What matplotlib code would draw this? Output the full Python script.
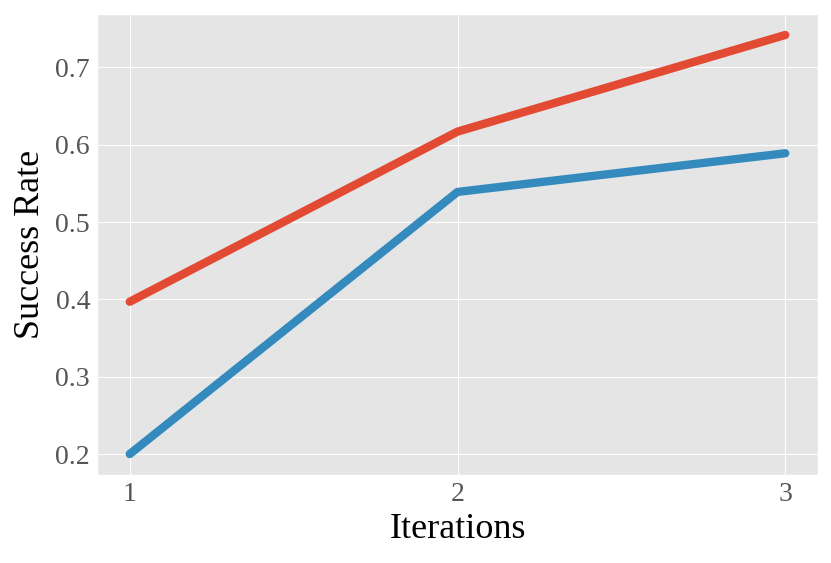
import numpy as np
import matplotlib.pyplot as plt
plt.switch_backend('Agg')

plt.style.use('ggplot')
plt.rcParams['font.family'] = ['Liberation Serif', 'DejaVu Serif']

iterations = [1, 2, 3]
rate_red = [0.397, 0.617, 0.742]
rate_blue = [0.200, 0.539, 0.589]

fig = plt.figure(figsize=(8.31, 5.63), dpi=100)
ax = fig.add_axes([0.1167, 0.1563, 0.8677, 0.8188])

ax.plot(iterations, rate_red, color='#E24A33', linewidth=6, solid_capstyle='round')
ax.plot(iterations, rate_blue, color='#348ABD', linewidth=6, solid_capstyle='round')

ax.set_xticks(iterations)
ax.set_yticks([0.2, 0.3, 0.4, 0.5, 0.6, 0.7])
ax.tick_params(axis='both', labelsize=20, colors='#555555', length=0, pad=5)
ax.set_xlabel('Iterations', fontsize=26, color='black', labelpad=4)
ax.set_ylabel('Success Rate', fontsize=26, color='black', labelpad=6)

fig.savefig('out.png', dpi=100)
plt.close(fig)
